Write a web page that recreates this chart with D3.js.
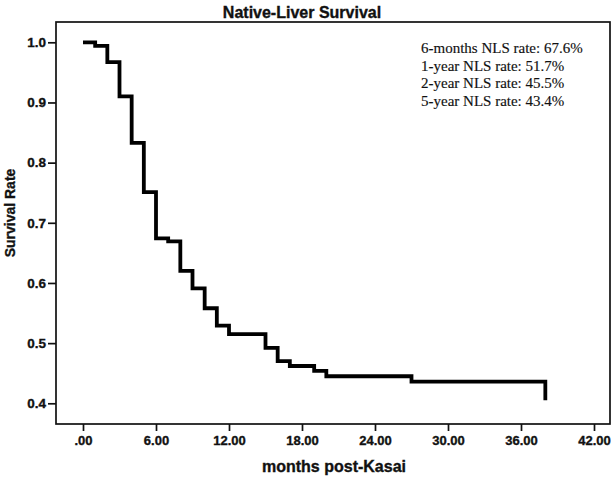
<!DOCTYPE html>
<html>
<head>
<meta charset="utf-8">
<script src="https://cdn.jsdelivr.net/npm/d3@7"></script>
<style>
  body { margin: 0; background: #fff; }
  svg { display: block; }
  .bold { font-family: "Liberation Sans", Arial, sans-serif; font-weight: bold; fill: #111; stroke: #111; stroke-width: 0.35px; }
</style>
</head>
<body>
<div id="chart"></div>
<script>
// data
var months   = [0, 1, 2, 3, 4, 5, 6, 7, 8, 9, 10, 11, 12, 15, 16, 17, 19, 20, 27, 38];
var survival = [1.0, 0.994, 0.967, 0.910, 0.833, 0.751, 0.674, 0.669, 0.620, 0.591,
                0.558, 0.529, 0.515, 0.492, 0.470, 0.462, 0.454, 0.445, 0.436, 0.405];
var xTicks = [0, 6, 12, 18, 24, 30, 36, 42];
var yTicks = [0.4, 0.5, 0.6, 0.7, 0.8, 0.9, 1.0];
var notes = ["6-months NLS rate: 67.6%", "1-year NLS rate: 51.7%",
             "2-year NLS rate: 45.5%", "5-year NLS rate: 43.4%"];

var W = 616, H = 481;
var frame = {left: 56, top: 22, right: 610, bottom: 424};

var svg = d3.select("#chart").append("svg")
    .attr("width", W)
    .attr("height", H);

var x = d3.scaleLinear().domain([0, 42]).range([83, 594]);
var y = d3.scaleLinear().domain([0.4, 1.0]).range([403.3, 42.3]);

// plot frame
svg.append("rect")
    .attr("x", frame.left)
    .attr("y", frame.top)
    .attr("width", frame.right - frame.left)
    .attr("height", frame.bottom - frame.top)
    .attr("fill", "none")
    .attr("stroke", "#111")
    .attr("stroke-width", 1.7);

// x axis
var xAxis = svg.append("g")
    .attr("transform", "translate(0," + frame.bottom + ")")
    .call(d3.axisBottom(x)
        .tickValues(xTicks)
        .tickSize(7)
        .tickPadding(5)
        .tickFormat(function(d) { return d === 0 ? ".00" : d3.format(".2f")(d); }));
xAxis.select(".domain").remove();
xAxis.selectAll("line").attr("stroke", "#111").attr("stroke-width", 1.7);
xAxis.selectAll("text")
    .attr("class", "bold")
    .attr("fill", null)
    .style("font-size", "13px");

// y axis
var yAxis = svg.append("g")
    .attr("transform", "translate(" + frame.left + ",0)")
    .call(d3.axisLeft(y)
        .tickValues(yTicks)
        .tickSize(8)
        .tickPadding(2)
        .tickFormat(d3.format(".1f")));
yAxis.select(".domain").remove();
yAxis.selectAll("line").attr("stroke", "#111").attr("stroke-width", 1.7);
yAxis.selectAll("text")
    .attr("class", "bold")
    .attr("fill", null)
    .style("font-size", "13.5px");

// survival step curve
var pts = months.map(function(m, i) { return [m, survival[i]]; });
var line = d3.line()
    .x(function(d) { return x(d[0]); })
    .y(function(d) { return y(d[1]); })
    .curve(d3.curveStepAfter);

svg.append("path")
    .datum(pts)
    .attr("d", line)
    .attr("fill", "none")
    .attr("stroke", "#000")
    .attr("stroke-width", 3.8)
    .attr("stroke-linejoin", "miter")
    .attr("stroke-linecap", "butt");

// title
svg.append("text")
    .attr("class", "bold")
    .attr("x", 302)
    .attr("y", 18)
    .attr("text-anchor", "middle")
    .style("font-size", "16px")
    .text("Native-Liver Survival");

// axis titles
svg.append("text")
    .attr("class", "bold")
    .attr("x", 334)
    .attr("y", 472)
    .attr("text-anchor", "middle")
    .style("font-size", "16px")
    .text("months post-Kasai");

svg.append("text")
    .attr("class", "bold")
    .attr("transform", "translate(15,213) rotate(-90)")
    .attr("text-anchor", "middle")
    .style("font-size", "14px")
    .text("Survival Rate");

// annotation text
svg.append("g").selectAll("text")
    .data(notes)
    .enter().append("text")
    .attr("x", 421)
    .attr("y", function(d, i) { return 53 + i * 17.5; })
    .style("font-family", "Liberation Serif, Times New Roman, serif")
    .style("font-size", "15px")
    .attr("fill", "#111")
    .attr("stroke", "#111")
    .attr("stroke-width", 0.15)
    .text(function(d) { return d; });
</script>
</body>
</html>
